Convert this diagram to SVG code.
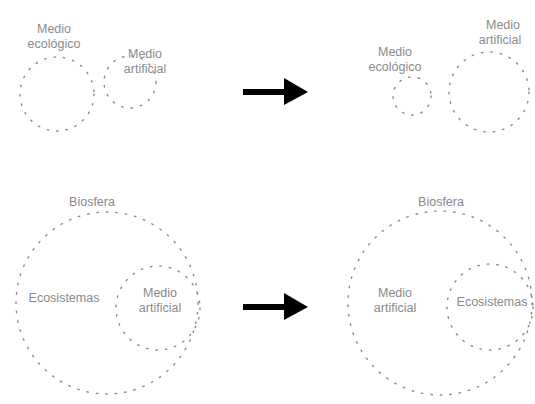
<svg xmlns="http://www.w3.org/2000/svg" width="535" height="404" viewBox="0 0 535 404">
<style>
.c{fill:none;stroke:#8a8a8a;stroke-width:1.4;stroke-dasharray:1.5 8;stroke-linecap:round}
.t{font-family:"Liberation Sans",Arial,sans-serif;font-size:12.5px;fill:#8a8a8a;text-anchor:middle}
.a{fill:#000}
</style>
<g id="p1-ecologico"><circle class="c" cx="57" cy="94" r="37"/><text class="t" x="54" y="33">Medio</text><text class="t" x="54" y="48">ecológico</text></g>
<g id="p1-artificial"><circle class="c" cx="130" cy="82" r="26"/><text class="t" x="145" y="58">Medio</text><text class="t" x="145" y="73">artificial</text></g>
<g id="p2-ecologico"><circle class="c" cx="412" cy="96" r="19"/><text class="t" x="395" y="56">Medio</text><text class="t" x="395" y="71">ecológico</text></g>
<g id="p2-artificial"><circle class="c" cx="489" cy="92" r="40"/><text class="t" x="503" y="29">Medio</text><text class="t" x="500" y="44">artificial</text></g>
<g id="p3-biosfera"><circle class="c" cx="107" cy="303" r="91"/><text class="t" x="92" y="206">Biosfera</text></g>
<g id="p3-ecosistemas"><text class="t" x="64" y="302">Ecosistemas</text></g>
<g id="p3-artificial"><circle class="c" cx="158" cy="308" r="42"/><text class="t" x="160" y="297">Medio</text><text class="t" x="160" y="312">artificial</text></g>
<g id="p4-biosfera"><circle class="c" cx="440" cy="303" r="92"/><text class="t" x="441" y="206">Biosfera</text></g>
<g id="p4-artificial"><text class="t" x="395" y="297">Medio</text><text class="t" x="395" y="312">artificial</text></g>
<g id="p4-ecosistemas"><circle class="c" cx="490" cy="307" r="43"/><text class="t" x="492" y="306">Ecosistemas</text></g>
<g id="connectors">
<path class="a" d="M243,89 H284 V78 L308,92 L284,105 V95 H243 Z"/>
<path class="a" d="M243,304 H284 V293 L308,307 L284,320 V310 H243 Z"/>
</g>
</svg>
